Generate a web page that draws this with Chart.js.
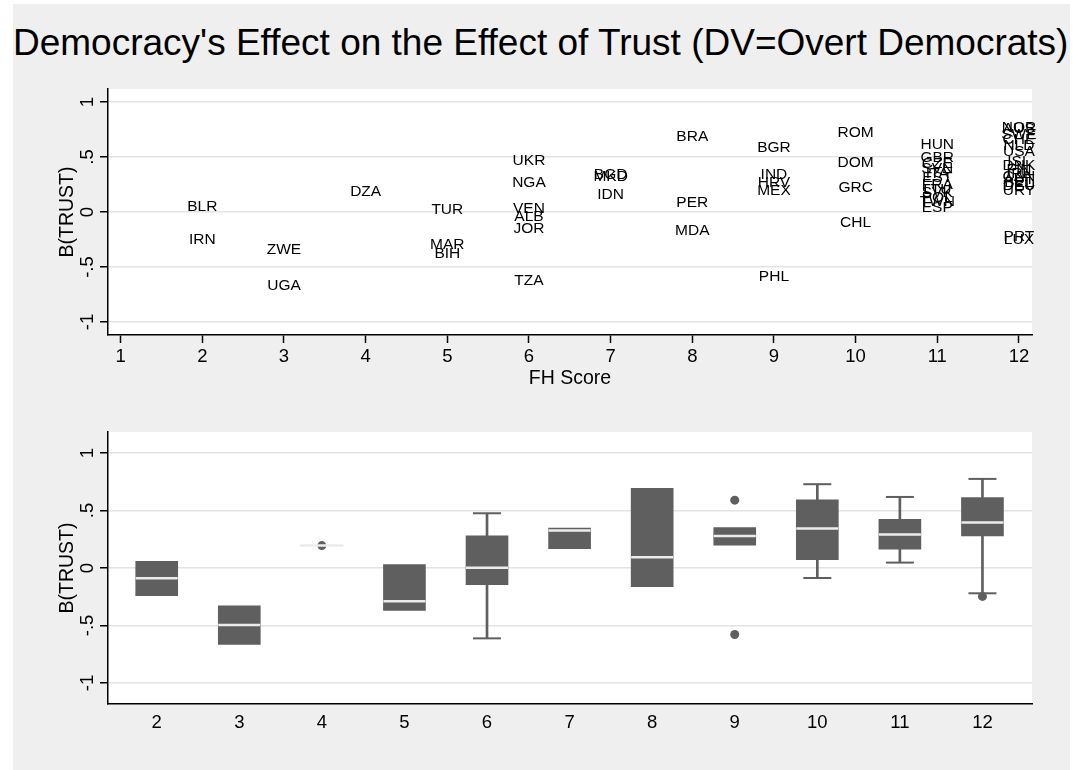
<!DOCTYPE html>
<html>
<head>
<meta charset="utf-8">
<script src="https://cdn.jsdelivr.net/npm/chart.js@4.4.0/dist/chart.umd.min.js"></script>
<style>
html,body{margin:0;padding:0;background:#ffffff;width:1077px;height:770px;overflow:hidden;}
#bg{position:absolute;left:13px;top:4px;width:1057px;height:766px;background:#efefef;}
#title{position:absolute;left:13px;top:23.7px;font-family:"Liberation Sans",Arial,Helvetica,sans-serif;font-size:37px;line-height:37px;white-space:nowrap;color:#000;}
#c1{position:absolute;left:0;top:0;}
#c2{position:absolute;left:0;top:400px;}
</style>
</head>
<body>
<div id="bg"></div>
<div id="title">Democracy's Effect on the Effect of Trust (DV=Overt Democrats)</div>
<canvas id="c1" width="1077" height="400"></canvas>
<canvas id="c2" width="1077" height="370"></canvas>
<script>
// ---------- data: top panel (country labels by FH score) ----------
const countryCodes = [
  'BLR','IRN',
  'ZWE','UGA',
  'DZA',
  'TUR','MAR','BIH',
  'UKR','NGA','VEN','ALB','JOR','TZA',
  'BGD','MKD','IDN',
  'BRA','PER','MDA',
  'BGR','IND','HRV','MEX','PHL',
  'ROM','DOM','GRC','CHL',
  'HUN','GBR','CZE','SVN','ITA','EST','FRA','LTU','SVK','POL','TWN','ESP',
  'NOR','AUS','SWE','CHE','NLD','USA','ISL','DNK','FIN','IRL','CAN','AUT','BEL','DEU','URY','PRT','LUX'
];
const fhScore = [
  2,2,
  3,3,
  4,
  5,5,5,
  6,6,6,6,6,6,
  7,7,7,
  8,8,8,
  9,9,9,9,9,
  10,10,10,10,
  11,11,11,11,11,11,11,11,11,11,11,11,
  12,12,12,12,12,12,12,12,12,12,12,12,12,12,12,12,12
];
const trustEffect = [
  0.058,-0.24,
  -0.33,-0.664,
  0.195,
  0.03,-0.29,-0.368,
  0.476,0.279,0.04,-0.03,-0.145,-0.612,
  0.348,0.326,0.169,
  0.692,0.093,-0.162,
  0.59,0.352,0.279,0.198,-0.578,
  0.729,0.455,0.23,-0.087,
  0.618,0.50,0.448,0.40,0.36,0.322,0.26,0.21,0.185,0.14,0.10,0.047,
  0.775,0.765,0.71,0.67,0.613,0.56,0.47,0.43,0.395,0.36,0.33,0.30,0.279,0.25,0.20,-0.22,-0.247
];

// ---------- data: bottom panel (box plot by FH score) ----------
const boxCats     = [2, 3, 4, 5, 6, 7, 8, 9, 10, 11, 12];
const boxQ1       = [-0.24, -0.664, 0.195, -0.368, -0.145, 0.169, -0.162, 0.198, 0.0715, 0.163, 0.279];
const boxMedian   = [-0.09, -0.496, 0.195, -0.29, 0.003, 0.326, 0.093, 0.279, 0.343, 0.291, 0.395];
const boxQ3       = [0.058, -0.33, 0.195, 0.03, 0.279, 0.348, 0.692, 0.352, 0.592, 0.424, 0.613];
const whiskerLow  = [null, null, null, null, -0.612, null, null, null, -0.087, 0.047, -0.22];
const whiskerHigh = [null, null, null, null, 0.476, null, null, null, 0.729, 0.618, 0.775];
const outlierCat  = [4, 9, 9, 12];
const outlierVal  = [0.195, 0.59, -0.578, -0.247];

// ---------- tick labels ----------
const xTicksTop = [1,2,3,4,5,6,7,8,9,10,11,12];
const xTicksBox = [2,3,4,5,6,7,8,9,10,11,12];
const yTicks = [-1, -0.5, 0, 0.5, 1];
const yTickLabels = ['-1', '-.5', '0', '.5', '1'];

// ---------- rendering ----------
const FONT = '"Liberation Sans", Arial, Helvetica, sans-serif';
Chart.defaults.font.family = FONT;
Chart.defaults.color = '#000';
const BOX = '#5f5f5f';
const MED = '#ececec';
const GRID = '#e3e3e3';

const decor = {
  id: 'decor',
  beforeDraw(chart) {
    const {ctx, chartArea: a} = chart;
    ctx.save();
    ctx.fillStyle = '#ffffff';
    ctx.fillRect(a.left, a.top, a.right - a.left, a.bottom - a.top);
    ctx.restore();
  },
  afterDraw(chart, args, o) {
    const {ctx, chartArea: a} = chart;
    const ys = chart.scales.y;
    ctx.save();
    ctx.fillStyle = '#000';
    ctx.textAlign = 'center';
    ctx.textBaseline = 'alphabetic';
    ctx.font = o.tickFont + 'px ' + FONT;
    ys.ticks.forEach(t => {
      const i = yTicks.indexOf(t.value);
      if (i < 0) return;
      const py = ys.getPixelForValue(t.value);
      ctx.save();
      ctx.translate(o.yTickX, py);
      ctx.rotate(-Math.PI / 2);
      ctx.fillText(yTickLabels[i], 0, 0);
      ctx.restore();
    });
    ctx.font = o.titleFont + 'px ' + FONT;
    ctx.save();
    ctx.translate(o.yTitleX, (a.top + a.bottom) / 2);
    ctx.rotate(-Math.PI / 2);
    ctx.fillText(o.yTitle, 0, 0);
    ctx.restore();
    if (o.xTitle) ctx.fillText(o.xTitle, (a.left + a.right) / 2, o.xTitleY);
    ctx.restore();
  }
};

const countryLabels = {
  id: 'countryLabels',
  afterDatasetsDraw(chart) {
    const {ctx} = chart;
    const xs = chart.scales.x, ys = chart.scales.y;
    ctx.save();
    ctx.font = '15.5px ' + FONT;
    ctx.fillStyle = '#000';
    ctx.textAlign = 'center';
    ctx.textBaseline = 'middle';
    countryCodes.forEach((c, i) => {
      ctx.fillText(c, xs.getPixelForValue(fhScore[i]), ys.getPixelForValue(trustEffect[i]) + 1);
    });
    ctx.restore();
  }
};

const setTicks = arr => s => { s.ticks = arr.map(v => ({value: v})); };

new Chart(document.getElementById('c1'), {
  type: 'scatter',
  data: { datasets: [{
    data: fhScore.map((x, i) => ({x: x, y: trustEffect[i]})),
    pointRadius: 0, pointHoverRadius: 0, pointHitRadius: 0
  }]},
  options: {
    responsive: false, animation: false, events: [],
    layout: { padding: { left: 0, right: 45, top: 89, bottom: 25 } },
    plugins: {
      legend: { display: false }, tooltip: { enabled: false },
      decor: { yTitle: 'B(TRUST)', yTitleX: 73, yTickX: 93, tickFont: 18.5, titleFont: 19.5, xTitle: 'FH Score', xTitleY: 384 }
    },
    scales: {
      x: {
        type: 'linear', min: 0.845, max: 12.16, offset: false,
        afterBuildTicks: setTicks(xTicksTop),
        afterFit: s => { s.height = 40; },
        grid: { display: true, drawOnChartArea: false, drawTicks: true, tickLength: 8, tickColor: '#000', tickWidth: 1.5 },
        border: { display: true, color: '#000', width: 1.5 },
        ticks: { font: { size: 18.5 }, color: '#000', padding: 3, maxRotation: 0, minRotation: 0, autoSkip: false }
      },
      y: {
        type: 'linear', min: -1.118, max: 1.118,
        afterBuildTicks: setTicks(yTicks),
        afterFit: s => { s.width = 108; },
        grid: { color: GRID, lineWidth: 1.5, drawTicks: true, tickLength: 8, tickColor: '#000', tickWidth: 1.5 },
        border: { display: true, color: '#000', width: 1.5 },
        ticks: { display: false }
      }
    }
  },
  plugins: [decor, countryLabels]
});

// box plot pieces
const boxData = boxCats.map((c, i) => ({x: c, y: [boxQ1[i], boxQ3[i]]}));
const medData = boxCats.map((c, i) => ({x: c, y: boxMedian[i]}));
const lowWhisk = [], highWhisk = [], caps = [];
boxCats.forEach((c, i) => {
  if (whiskerLow[i] !== null) { lowWhisk.push({x: c, y: [whiskerLow[i], boxQ1[i]]}); caps.push({x: c, y: whiskerLow[i]}); }
  if (whiskerHigh[i] !== null) { highWhisk.push({x: c, y: [boxQ3[i], whiskerHigh[i]]}); caps.push({x: c, y: whiskerHigh[i]}); }
});
const outData = outlierCat.map((c, i) => ({x: c, y: outlierVal[i]}));

new Chart(document.getElementById('c2'), {
  type: 'bar',
  data: { datasets: [
    { type: 'scatter', data: medData, pointStyle: 'line', pointRadius: 21, pointHoverRadius: 21, borderColor: MED, borderWidth: 2.5, backgroundColor: MED },
    { type: 'scatter', data: outData, pointStyle: 'circle', pointRadius: 4.5, pointHoverRadius: 4.5, borderWidth: 0, backgroundColor: BOX, borderColor: BOX },
    { type: 'scatter', data: caps, pointStyle: 'line', pointRadius: 14, pointHoverRadius: 14, borderColor: BOX, borderWidth: 2 },
    { type: 'bar', data: boxData, backgroundColor: BOX, borderWidth: 0, barThickness: 42, grouped: false },
    { type: 'bar', data: lowWhisk, backgroundColor: BOX, borderWidth: 0, barThickness: 2, grouped: false },
    { type: 'bar', data: highWhisk, backgroundColor: BOX, borderWidth: 0, barThickness: 2, grouped: false }
  ]},
  options: {
    responsive: false, animation: false, events: [],
    layout: { padding: { left: 0, right: 45, top: 32, bottom: 26 } },
    plugins: {
      legend: { display: false }, tooltip: { enabled: false },
      decor: { yTitle: 'B(TRUST)', yTitleX: 73, yTickX: 93, tickFont: 18.5, titleFont: 19.5, xTitle: null }
    },
    scales: {
      x: {
        type: 'linear', min: 1.41, max: 12.6, offset: false,
        afterBuildTicks: setTicks(xTicksBox),
        afterFit: s => { s.height = 40; },
        grid: { display: false, drawOnChartArea: false, drawTicks: false, offset: false },
        border: { display: true, color: '#000', width: 1.5 },
        ticks: { font: { size: 18.5 }, color: '#000', padding: 8, maxRotation: 0, minRotation: 0, autoSkip: false }
      },
      y: {
        type: 'linear', min: -1.183, max: 1.183,
        afterBuildTicks: setTicks(yTicks),
        afterFit: s => { s.width = 108; },
        grid: { color: GRID, lineWidth: 1.5, drawTicks: true, tickLength: 8, tickColor: '#000', tickWidth: 1.5 },
        border: { display: true, color: '#000', width: 1.5 },
        ticks: { display: false }
      }
    }
  },
  plugins: [decor]
});
</script>
</body>
</html>
